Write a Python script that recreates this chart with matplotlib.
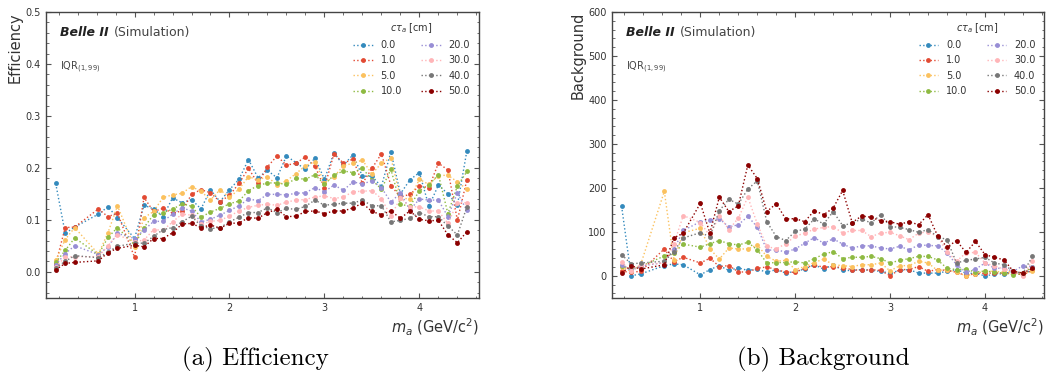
import matplotlib
matplotlib.use("Agg")
import matplotlib.pyplot as plt
from matplotlib.ticker import MultipleLocator, AutoMinorLocator

# ALP mass points (GeV/c^2)
mass = [0.17, 0.27, 0.37, 0.62, 0.72, 0.82,
        1.0, 1.1, 1.2, 1.3, 1.4, 1.5, 1.6, 1.7, 1.8, 1.9,
        2.0, 2.1, 2.2, 2.3, 2.4, 2.5, 2.6, 2.7, 2.8, 2.9,
        3.0, 3.1, 3.2, 3.3, 3.4, 3.5, 3.6, 3.7, 3.8, 3.9,
        4.0, 4.1, 4.2, 4.3, 4.4, 4.5]

ctau_labels = ["0.0", "1.0", "5.0", "10.0", "20.0", "30.0", "40.0", "50.0"]
colors = ["#348ABD", "#E24A33", "#FBC15E", "#8EBA42",
          "#988ED5", "#FFB5B8", "#777777", "#8B0000"]

# Signal efficiency per lifetime hypothesis
eff_ct0 = [.170, .074, .086, .111, .125, .104, .064, .128, .121, .106, .142, .133, .139, .121, .158, .135,
           .158, .178, .216, .181, .195, .181, .223, .210, .197, .219, .178, .229, .205, .225, .184, .184,
           .164, .231, .150, .177, .191, .126, .167, .150, .128, .233]
eff_ct1 = [.015, .085, .086, .121, .106, .113, .028, .143, .116, .122, .113, .117, .149, .158, .152, .135,
           .147, .170, .199, .170, .202, .223, .205, .209, .221, .203, .162, .227, .209, .217, .170, .199,
           .227, .166, .144, .149, .165, .162, .209, .196, .099, .177]
eff_ct5 = [.022, .062, .085, .034, .075, .127, .047, .104, .116, .143, .148, .151, .164, .155, .138, .158,
           .143, .159, .183, .177, .183, .167, .175, .189, .204, .212, .171, .183, .204, .209, .215, .188,
           .209, .219, .142, .140, .178, .168, .185, .186, .173, .159]
eff_ct10 = [.018, .041, .065, .033, .066, .085, .052, .085, .110, .114, .120, .131, .126, .105, .115, .122,
            .131, .136, .156, .166, .171, .171, .168, .180, .178, .187, .168, .186, .194, .191, .199, .177,
            .159, .197, .130, .126, .156, .167, .187, .112, .165, .193]
eff_ct20 = [.013, .035, .050, .033, .048, .074, .064, .080, .097, .097, .111, .123, .117, .096, .101, .109,
            .118, .127, .140, .137, .149, .149, .148, .151, .152, .162, .154, .167, .157, .173, .169, .175,
            .162, .134, .152, .119, .140, .138, .138, .106, .152, .118]
eff_ct30 = [.010, .028, .029, .029, .050, .071, .058, .061, .081, .080, .096, .111, .109, .091, .097, .099,
            .107, .117, .124, .128, .130, .128, .134, .138, .139, .144, .146, .141, .144, .154, .155, .156,
            .141, .107, .142, .125, .125, .117, .117, .093, .133, .133]
eff_ct40 = [.008, .020, .031, .027, .038, .049, .055, .055, .068, .081, .085, .096, .107, .088, .083, .085,
            .096, .105, .114, .114, .123, .114, .122, .120, .126, .138, .128, .130, .132, .132, .138, .127,
            .127, .096, .099, .103, .114, .106, .106, .088, .071, .125]
eff_ct50 = [.004, .016, .018, .021, .037, .045, .051, .048, .064, .064, .075, .092, .093, .085, .090, .084,
            .093, .094, .104, .103, .114, .120, .106, .107, .116, .117, .112, .117, .117, .123, .132, .116,
            .110, .117, .103, .117, .101, .098, .099, .071, .056, .077]

# Expected background counts per lifetime hypothesis
bkg_ct0 = [158, 0, 4, 23, 27, 25, 2, 14, 23, 12, 18, 12, 15, 8, 14, 6,
           10, 15, 25, 15, 25, 12, 12, 14, 12, 10, 6, 12, 14, 6, 6, 6,
           10, 14, 6, 5, 0, 3, 5, 10, 3, 14]
bkg_ct1 = [10, 8, 10, 61, 32, 42, 29, 40, 21, 23, 9, 8, 17, 20, 14, 8,
           8, 17, 25, 19, 21, 18, 14, 12, 14, 12, 0, 14, 14, 21, 10, 14,
           12, 8, 0, 5, 6, 6, 6, 6, 2, 12]
bkg_ct5 = [20, 10, 25, 192, 36, 98, 108, 61, 38, 63, 61, 61, 70, 44, 33, 35,
           14, 21, 30, 38, 25, 23, 21, 25, 25, 29, 11, 23, 23, 33, 29, 12,
           14, 8, 0, 5, 10, 10, 8, 10, 6, 10]
bkg_ct10 = [23, 15, 21, 45, 52, 72, 65, 73, 80, 73, 70, 76, 59, 29, 30, 30,
            32, 29, 39, 49, 55, 39, 42, 42, 44, 39, 29, 35, 39, 44, 44, 36,
            17, 14, 15, 8, 11, 8, 6, 2, 5, 21]
bkg_ct20 = [25, 12, 22, 30, 60, 103, 123, 126, 130, 111, 116, 135, 111, 58, 59, 54,
            61, 74, 87, 74, 84, 72, 63, 68, 68, 63, 61, 67, 59, 70, 69, 68,
            52, 25, 8, 15, 29, 17, 17, 10, 23, 20]
bkg_ct30 = [31, 10, 25, 29, 72, 137, 121, 91, 137, 105, 131, 179, 118, 67, 61, 73,
            90, 97, 106, 110, 112, 97, 103, 103, 89, 97, 99, 91, 82, 97, 100, 89,
            55, 33, 52, 53, 29, 22, 15, 10, 0, 34]
bkg_ct40 = [48, 27, 29, 33, 55, 86, 98, 89, 148, 174, 163, 197, 216, 123, 89, 80,
            101, 106, 129, 118, 146, 114, 120, 129, 120, 139, 112, 110, 105, 99, 105, 89,
            82, 29, 35, 38, 42, 29, 25, 10, 6, 44]
bkg_ct50 = [6, 23, 15, 25, 86, 97, 165, 97, 179, 146, 159, 252, 221, 146, 164, 129,
            130, 123, 148, 139, 154, 194, 121, 136, 133, 125, 123, 117, 123, 116, 139, 91,
            65, 80, 53, 78, 48, 42, 36, 10, 6, 17]

eff_series = [eff_ct0, eff_ct1, eff_ct5, eff_ct10, eff_ct20, eff_ct30, eff_ct40, eff_ct50]
bkg_series = [bkg_ct0, bkg_ct1, bkg_ct5, bkg_ct10, bkg_ct20, bkg_ct30, bkg_ct40, bkg_ct50]

TEXT = "#333333"
plt.rcParams["font.family"] = ["DejaVu Sans"]

fig = plt.figure(figsize=(10.49, 3.87), dpi=100)
ax_eff = fig.add_axes([0.0436, 0.2307, 0.4128, 0.7382])
ax_bkg = fig.add_axes([0.5831, 0.2307, 0.4124, 0.7382])


def draw_panel(ax, series, ylabel, ylim, ymajor):
    for vals, col, lab in zip(series, colors, ctau_labels):
        ax.plot(mass, vals, linestyle=":", linewidth=1.0, color=col,
                marker="o", markersize=3.5, markeredgewidth=0, label=lab)
    ax.set_xlim(0.065, 4.625)
    ax.set_ylim(*ylim)
    ax.xaxis.set_major_locator(MultipleLocator(1))
    ax.xaxis.set_minor_locator(AutoMinorLocator(5))
    ax.yaxis.set_major_locator(MultipleLocator(ymajor))
    ax.yaxis.set_minor_locator(AutoMinorLocator(5))
    ax.tick_params(which="both", direction="in", top=True, right=True,
                   colors="#555555", labelcolor=TEXT, labelsize=7)
    ax.tick_params(which="major", length=3.5, width=0.8)
    ax.tick_params(which="minor", length=1.8, width=0.6)
    for sp in ax.spines.values():
        sp.set_color("#444444")
        sp.set_linewidth(1.0)
    ax.set_xlabel(r"$m_a$ (GeV/c$^2$)", loc="right", fontsize=10.5,
                  color=TEXT, labelpad=3)
    ax.set_ylabel(ylabel, loc="top", fontsize=10.5, color=TEXT, labelpad=2)

    belle = ax.text(0.033, 0.93, "Belle II", transform=ax.transAxes,
                    fontsize=9, fontweight="bold", fontstyle="italic",
                    color="#222222", va="center", ha="left")
    ax.annotate("(Simulation)", xy=(1, 0), xycoords=belle,
                xytext=(4, 0), textcoords="offset points",
                fontsize=9, color="#444444", va="bottom", ha="left")
    ax.text(0.033, 0.805, r"IQR$_{(1,99)}$", transform=ax.transAxes,
            fontsize=7, color="#444444", va="center", ha="left")

    leg = ax.legend(loc="upper right", ncol=2, frameon=False, fontsize=7,
                    title=r"$c\tau_a$ [cm]", title_fontsize=7,
                    handlelength=2.0, labelspacing=0.55, columnspacing=2.0)
    for t in leg.get_texts():
        t.set_color(TEXT)
    leg.get_title().set_color(TEXT)


draw_panel(ax_eff, eff_series, "Efficiency", (-0.05, 0.5), 0.1)
draw_panel(ax_bkg, bkg_series, "Background", (-50, 600), 100)

fig.text(0.243, 0.072, "(a) Efficiency", family="cmr10", fontsize=18,
         ha="center", va="center", color="black")
fig.text(0.785, 0.072, "(b) Background", family="cmr10", fontsize=18,
         ha="center", va="center", color="black")

fig.savefig("out.png", dpi=100, facecolor="white")
